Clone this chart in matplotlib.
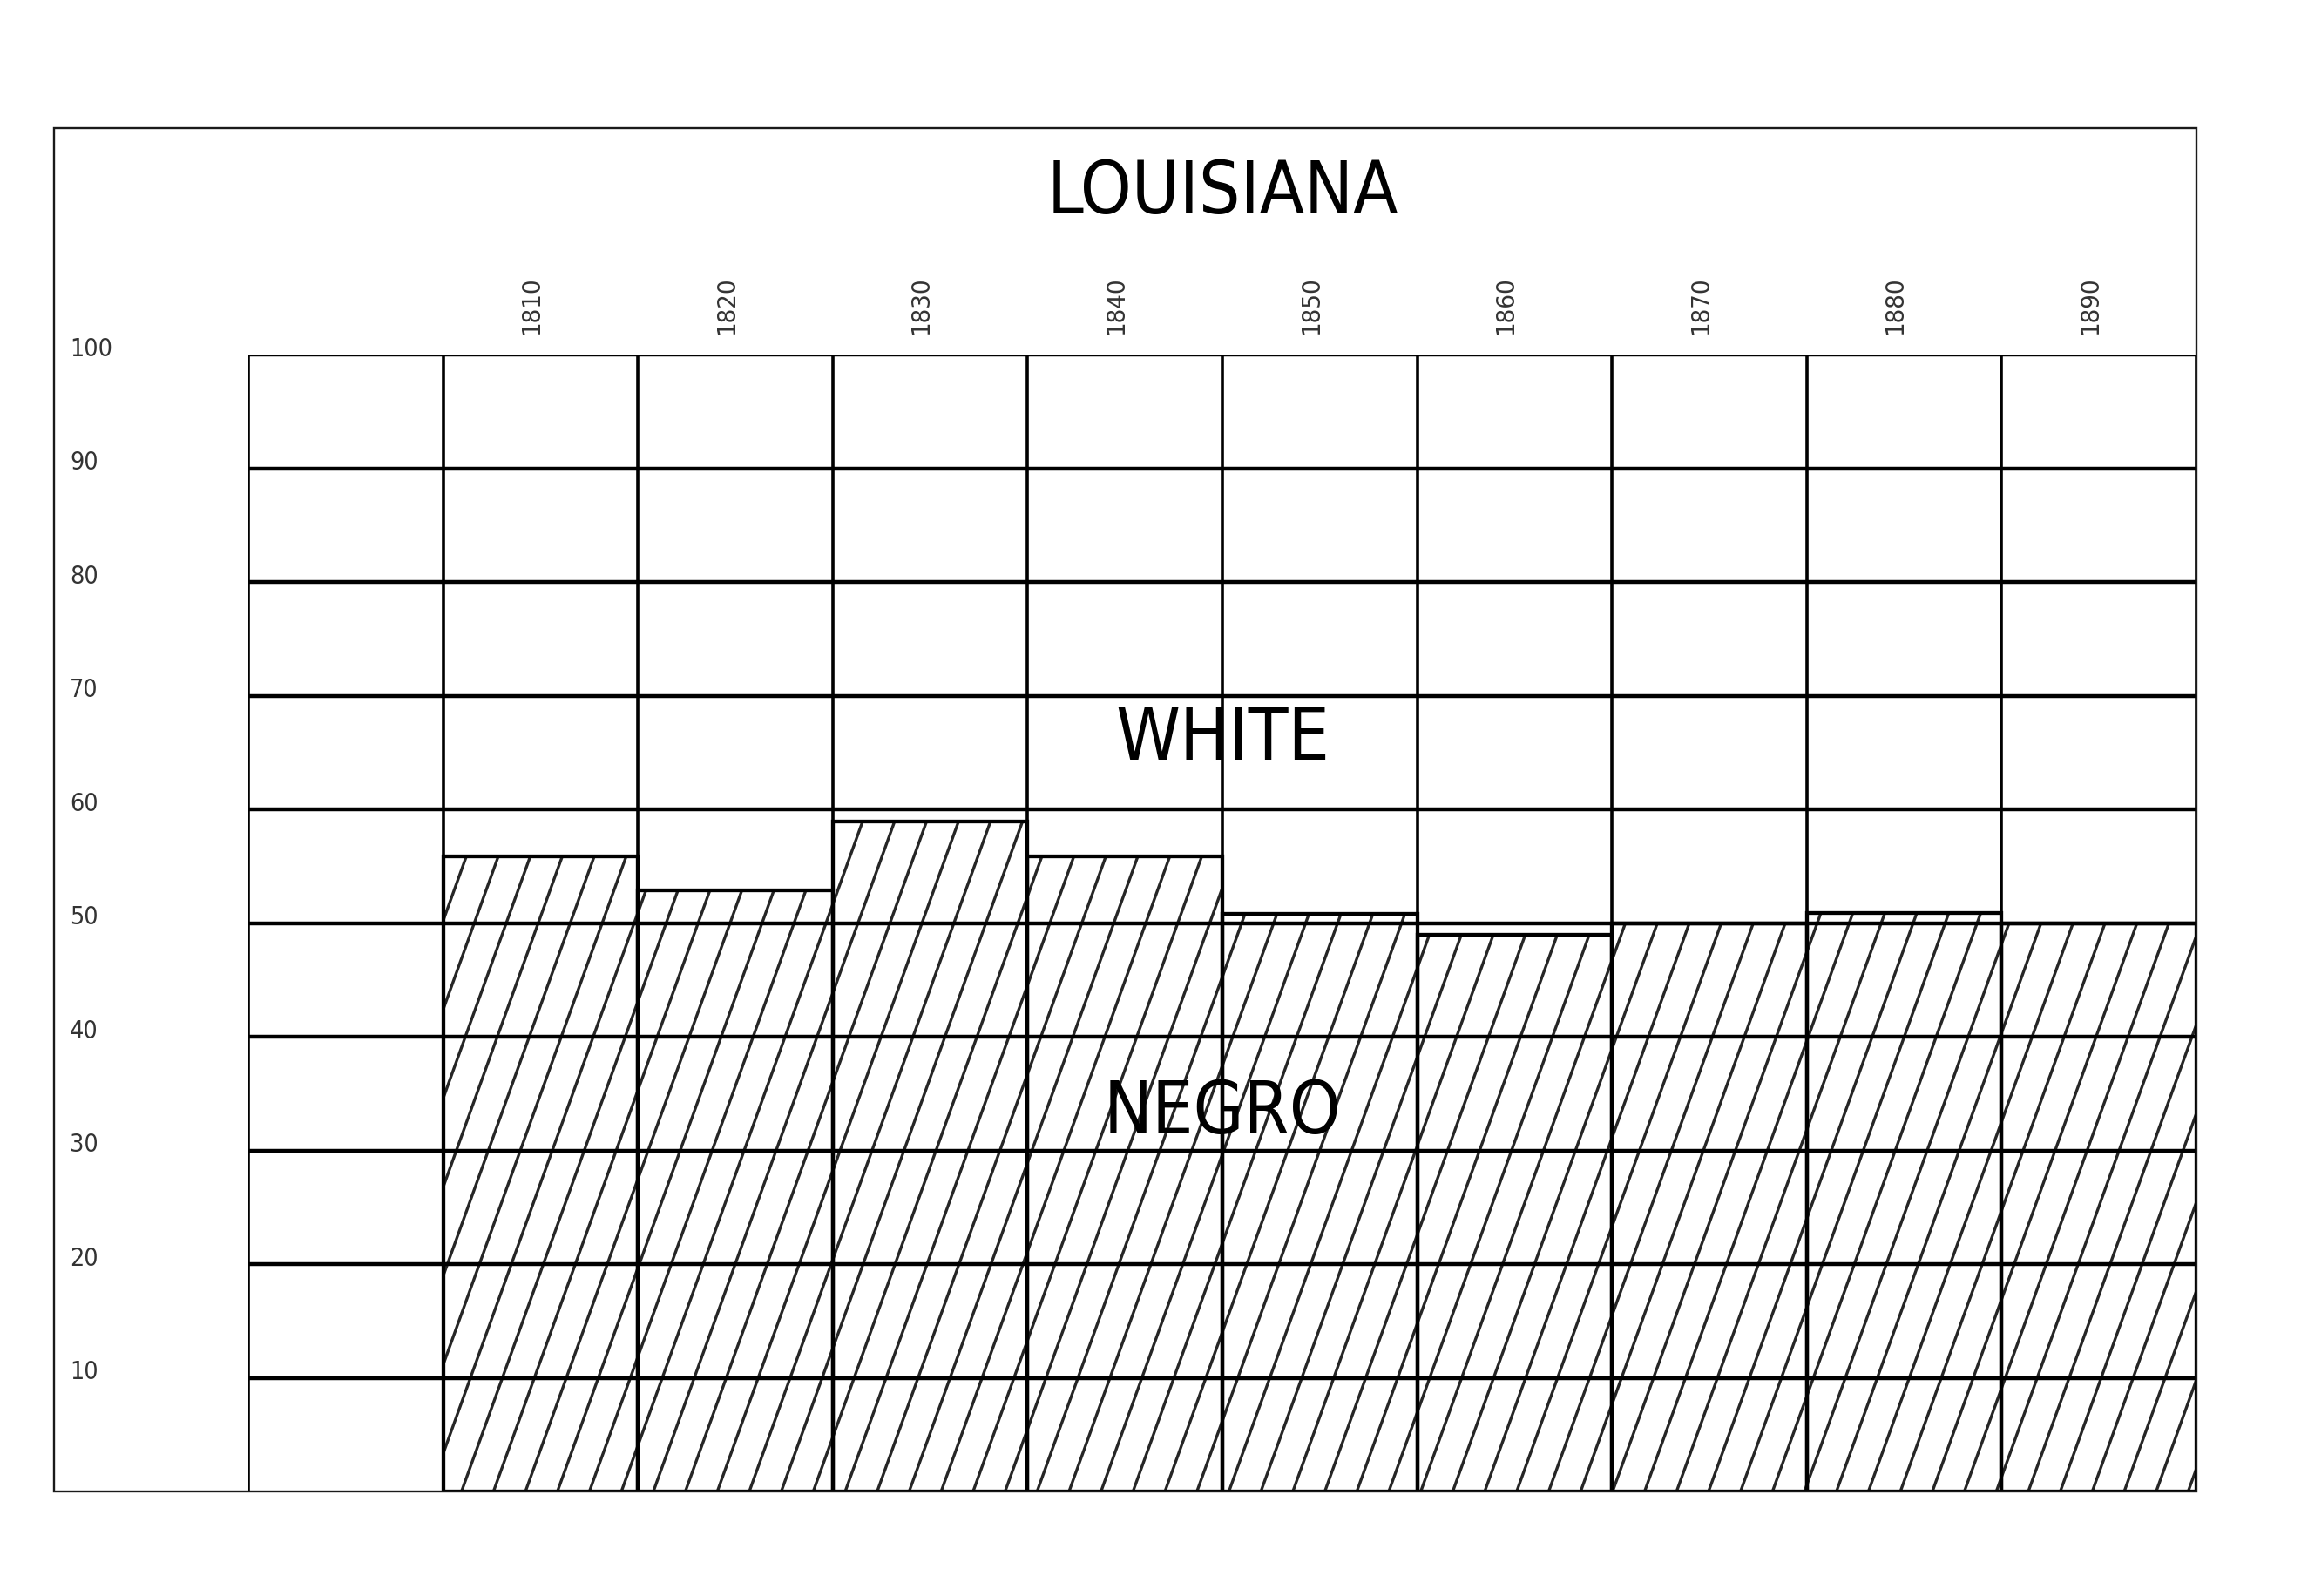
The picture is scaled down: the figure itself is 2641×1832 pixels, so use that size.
import numpy as np
import matplotlib
matplotlib.use("Agg")
import matplotlib.pyplot as plt
from matplotlib.collections import LineCollection
from matplotlib.patches import Rectangle
import matplotlib.transforms as mtransforms

# ---- data ----
years = ["1810", "1820", "1830", "1840", "1850", "1860", "1870", "1880", "1890"]
negro_pct = [55.9, 52.9, 58.9, 55.9, 50.8, 49.0, 50.0, 50.9, 50.0]
y_ticks = [10, 20, 30, 40, 50, 60, 70, 80, 90, 100]
title = "LOUISIANA"
upper_label = "WHITE"
lower_label = "NEGRO"

W, H = 2641, 1833
DPI = 100
fig = plt.figure(figsize=(W / DPI, H / DPI), dpi=DPI)
fig.patch.set_facecolor("white")

FONT = dict(family="DejaVu Sans", fontstretch="condensed")

# grid area
gl, gr, gt, gb = 285, 2521, 408, 1713
ax = fig.add_axes([gl / W, 1 - gb / H, (gr - gl) / W, (gb - gt) / H])
ax.set_xlim(-1, len(years))
ax.set_ylim(0, 100)
ax.axis("off")

# outer frame
frame = Rectangle((62 / W, 1 - 1713 / H), (2521 - 62) / W, (1713 - 148) / H,
                  transform=fig.transFigure, fill=False, lw=1.7,
                  edgecolor="#1a1a1a", zorder=0)
fig.patches.append(frame)

# bars
xs = np.arange(len(years))
bars = ax.bar(xs, negro_pct, width=1.0, align="edge", facecolor="none",
              edgecolor="black", linewidth=3.1, zorder=4)

# steep diagonal hatching, clipped to each bar
px_x = (gr - gl) / (len(years) + 1)   # pixels per x unit
px_y = (gb - gt) / 100.0              # pixels per y unit
spacing = 36.7 / px_x
slope = 0.36 * px_y / px_x             # x-units per y-unit
phase = -1 + (2328 - gl) / px_x
offsets = phase + spacing * np.arange(-80, 20)
segs = [[(c, 0), (c + slope * 100, 100)] for c in offsets]
for b in bars:
    lc = LineCollection(segs, colors="#262626", linewidths=2.4, zorder=2)
    ax.add_collection(lc)
    lc.set_clip_path(b)

# grid
ax.hlines(y_ticks, -1, len(years), colors="black", linewidth=3.2, zorder=3)
ax.vlines(np.arange(-1, len(years) + 1), 0, 100, colors="black",
          linewidth=2.6, zorder=3)

# year labels
for x, yr in zip(xs, years):
    ax.text(x + 0.5 - 10 / px_x, 100 + (gt - 384) / px_y, yr, rotation=90,
            ha="center", va="bottom", fontsize=21, color="#333333",
            clip_on=False, **FONT)

# y labels
trans = mtransforms.blended_transform_factory(fig.transFigure, ax.transData)
for v in y_ticks:
    ax.text(80 / W, v + 0.55, str(v), transform=trans, ha="left", va="center",
            fontsize=20.5, color="#333333", clip_on=False, **FONT)

# title and area labels
fig.text((gl + gr) / 2 / W, 1 - 245 / H, title, ha="center", va="baseline",
         fontsize=60, color="black", **FONT)
ax.text(4.0, (gb - 872) / px_y, upper_label, ha="center", va="baseline",
        fontsize=60, color="black", zorder=5, **FONT)
ax.text(4.0, (gb - 1301) / px_y, lower_label, ha="center", va="baseline",
        fontsize=60, color="black", zorder=5, **FONT)

fig.savefig("out.png", dpi=DPI, facecolor="white")
